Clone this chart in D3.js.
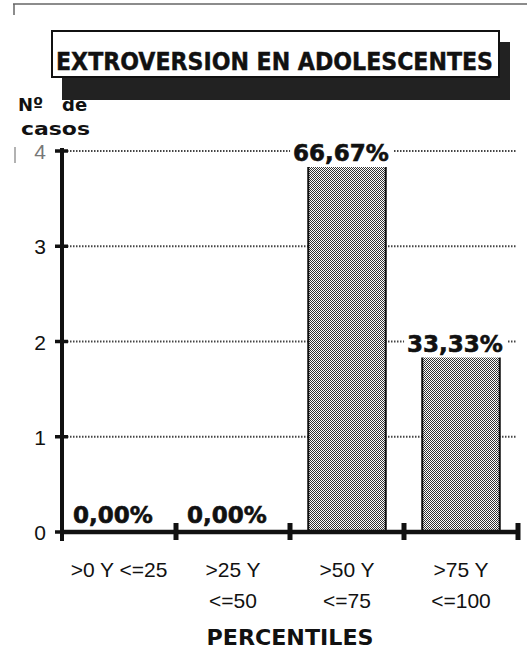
<!DOCTYPE html>
<html>
<head>
<meta charset="utf-8">
<script src="https://cdn.jsdelivr.net/npm/d3@7"></script>
<style>
  body { margin: 0; background: #fff; }
  svg { display: block; }
</style>
</head>
<body>
<div id="chart"></div>
<script>
const title = "EXTROVERSION EN ADOLESCENTES";
const yTitle = ["Nº de", "casos"];
const xTitle = "PERCENTILES";
const categories = [">0 Y <=25", ">25 Y <=50", ">50 Y <=75", ">75 Y <=100"];
// lineas de cada etiqueta tal como aparecen en el grafico
const categoryLines = [[">0 Y <=25"], [">25 Y", "<=50"], [">50 Y", "<=75"], [">75 Y", "<=100"]];
const casos = [0, 0, 4, 2];
const yTicks = [0, 1, 2, 3, 4];

const W = 527, H = 652;
const margin = { top: 151, right: 9, bottom: 120, left: 62 };

const svg = d3.select("#chart").append("svg").attr("width", W).attr("height", H);

// trama de puntos de las barras
const pat = svg.append("defs").append("pattern")
  .attr("id", "dots").attr("width", 2).attr("height", 2)
  .attr("patternUnits", "userSpaceOnUse");
pat.append("rect").attr("width", 2).attr("height", 2).attr("fill", "#fff");
pat.append("rect").attr("width", 1).attr("height", 1).attr("fill", "#333");
pat.append("rect").attr("x", 1).attr("y", 1).attr("width", 1).attr("height", 1).attr("fill", "#333");

const x = d3.scaleBand()
  .domain(categories)
  .range([margin.left, W - margin.right])
  .paddingInner(0.32)
  .paddingOuter(0.16);

const y = d3.scaleLinear()
  .domain([0, 4])
  .range([532, margin.top]);

const total = d3.sum(casos);
const fmtPct = (v) => d3.format(".2f")(v).replace(".", ",") + "%";

// marco superior
svg.append("line").attr("x1", 13).attr("x2", W).attr("y1", 4).attr("y2", 4)
  .attr("stroke", "#666").attr("stroke-width", 1.5);
svg.append("line").attr("x1", 14).attr("x2", 14).attr("y1", 4).attr("y2", 15)
  .attr("stroke", "#666").attr("stroke-width", 1.5);
svg.append("line").attr("x1", 15).attr("x2", 15).attr("y1", 147).attr("y2", 163)
  .attr("stroke", "#999").attr("stroke-width", 1.5);

// titulo eje Y (queda parcialmente bajo la sombra)
const yt = svg.append("text").attr("y", 111)
  .attr("font-family", "DejaVu Sans").attr("font-weight", "bold").attr("font-size", 18)
  .attr("fill", "#111");
yTitle[0].split(" ").forEach((w, i) => {
  yt.append("tspan").attr("x", i === 0 ? 18 : 62).text(w);
});
svg.append("text").attr("x", 21).attr("y", 135)
  .attr("font-family", "DejaVu Sans").attr("font-weight", "bold").attr("font-size", 18)
  .attr("textLength", 69).attr("lengthAdjust", "spacingAndGlyphs")
  .attr("fill", "#111")
  .text(yTitle[1]);

// caja del titulo con sombra
svg.append("rect").attr("x", 62).attr("y", 42).attr("width", 448).attr("height", 58).attr("fill", "#222");
svg.append("rect").attr("x", 52).attr("y", 31).attr("width", 447).attr("height", 46)
  .attr("fill", "#fff").attr("stroke", "#111").attr("stroke-width", 2);
svg.append("text").attr("x", 56).attr("y", 70)
  .attr("font-family", "DejaVu Sans Condensed, DejaVu Sans").attr("font-weight", "bold")
  .attr("font-size", 24).attr("textLength", 437).attr("lengthAdjust", "spacingAndGlyphs")
  .attr("fill", "#111").attr("stroke", "#111").attr("stroke-width", 0.4)
  .text(title);

// lineas de cuadricula
svg.append("g").selectAll("line")
  .data(yTicks.filter((d) => d > 0))
  .enter().append("line")
  .attr("x1", 64).attr("x2", W - margin.right - 1)
  .attr("y1", (d) => y(d)).attr("y2", (d) => y(d))
  .attr("stroke", "#444").attr("stroke-width", 2)
  .attr("stroke-dasharray", "1.5,1.5");

// barras
svg.append("g").selectAll("rect")
  .data(casos)
  .enter().append("rect")
  .attr("x", (d, i) => x(categories[i]))
  .attr("y", (d) => y(d))
  .attr("width", x.bandwidth())
  .attr("height", (d) => y(0) - y(d))
  .attr("fill", "url(#dots)")
  .attr("stroke", "#111").attr("stroke-width", 2);

// etiquetas de porcentaje
const lab = svg.append("g").selectAll("g")
  .data(casos)
  .enter().append("g");
lab.append("rect").attr("class", "bg").attr("fill", "#fff");
lab.append("text")
  .attr("x", (d, i) => x(categories[i]) + x.bandwidth() / 2 - 6)
  .attr("y", (d) => Math.min(y(d) + 10, y(0) - 9))
  .attr("text-anchor", "middle")
  .attr("font-family", "DejaVu Sans").attr("font-weight", "bold").attr("font-size", 23)
  .attr("fill", "#111").attr("stroke", "#111").attr("stroke-width", 0.6)
  .text((d) => fmtPct((d / total) * 100));
lab.each(function (d) {
  if (d === 0) return;
  const g = d3.select(this);
  const b = g.select("text").node().getBBox();
  g.select("rect.bg")
    .attr("x", b.x - 3).attr("y", b.y)
    .attr("width", b.width + 8).attr("height", b.height + 1);
});

// eje Y
svg.append("line").attr("x1", 62).attr("x2", 62).attr("y1", 148).attr("y2", 541)
  .attr("stroke", "#111").attr("stroke-width", 4);
svg.append("g").selectAll("line")
  .data(yTicks)
  .enter().append("line")
  .attr("x1", 55).attr("x2", 68)
  .attr("y1", (d) => y(d)).attr("y2", (d) => y(d))
  .attr("stroke", "#111").attr("stroke-width", 3.5);
svg.append("g").selectAll("text")
  .data(yTicks)
  .enter().append("text")
  .attr("x", 46).attr("y", (d) => y(d) + 8)
  .attr("text-anchor", "end")
  .attr("font-family", "Liberation Sans, Arial").attr("font-size", 21)
  .attr("fill", (d) => (d === 4 ? "#777" : "#111"))
  .text((d) => d);

// eje X
svg.append("line").attr("x1", 60).attr("x2", W - margin.right).attr("y1", y(0)).attr("y2", y(0))
  .attr("stroke", "#111").attr("stroke-width", 4.5);
const bounds = d3.range(1, categories.length + 1).map((i) => margin.left + i * x.step());
svg.append("g").selectAll("line")
  .data(bounds)
  .enter().append("line")
  .attr("x1", (d) => d).attr("x2", (d) => d)
  .attr("y1", y(0) - 9).attr("y2", y(0) + 8)
  .attr("stroke", "#111").attr("stroke-width", 5);

// etiquetas de categoria
const xl = svg.append("g").selectAll("text")
  .data(categories)
  .enter().append("text")
  .attr("x", (d) => x(d) + x.bandwidth() / 2)
  .attr("y", 577)
  .attr("text-anchor", "middle")
  .attr("font-family", "Liberation Sans, Arial").attr("font-size", 21)
  .attr("fill", "#111");
xl.each(function (d, i) {
  const t = d3.select(this);
  const cx = t.attr("x");
  categoryLines[i].forEach((line, j) => {
    t.append("tspan").attr("x", cx).attr("dy", j === 0 ? 0 : 31).text(line);
  });
});

svg.append("text").attr("x", 290).attr("y", 645)
  .attr("text-anchor", "middle")
  .attr("font-family", "DejaVu Sans Condensed, DejaVu Sans").attr("font-weight", "bold")
  .attr("font-size", 22).attr("textLength", 167).attr("lengthAdjust", "spacingAndGlyphs")
  .attr("fill", "#111")
  .text(xTitle);
</script>
</body>
</html>
